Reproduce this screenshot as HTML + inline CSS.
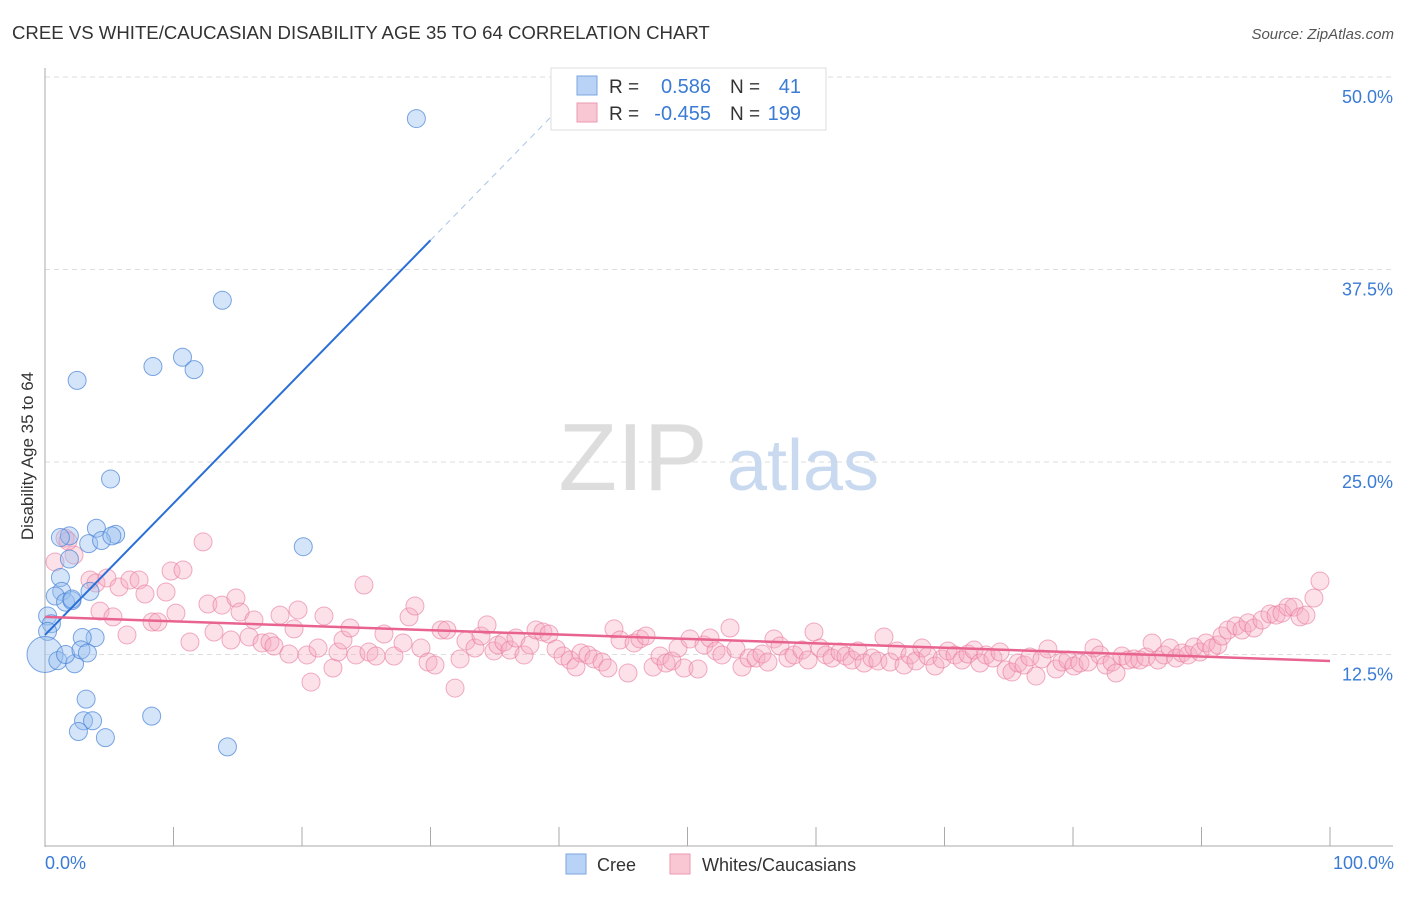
<!DOCTYPE html>
<html><head><meta charset="utf-8"><style>
body{margin:0;background:#fff;font-family:"Liberation Sans",sans-serif}
svg text{font-family:"Liberation Sans",sans-serif}
</style></head><body>
<svg id="chart" width="1406" height="892" viewBox="0 0 1406 892">
<text x="12" y="39" font-size="18.6" fill="#333">CREE VS WHITE/CAUCASIAN DISABILITY AGE 35 TO 64 CORRELATION CHART</text>
<text x="1394" y="39" font-size="15" fill="#555" font-style="italic" text-anchor="end">Source: ZipAtlas.com</text>
<g id="grid"></g>
<g>
<text x="633" y="490" font-size="96" fill="#ddd" font-family="Liberation Serif,serif" text-anchor="middle">ZIP</text>
<text x="803" y="490" font-size="72" fill="#c9daf0" text-anchor="middle">atlas</text>
</g>
<g id="pinkpts"></g>
<g id="bluepts"></g>
<g id="lines"></g>
<text transform="translate(33,456) rotate(-90)" font-size="17" fill="#333" text-anchor="middle">Disability Age 35 to 64</text>
<text x="45" y="869" font-size="18" fill="#3a7bd5">0.0%</text>
<text x="1394" y="869" font-size="18" fill="#3a7bd5" text-anchor="end">100.0%</text>
<g>
<rect x="551" y="68" width="275" height="62" fill="#fff" stroke="#ddd"/>
<rect x="577" y="76" width="20" height="19" fill="#b8d3f5" stroke="#7aa6e0"/>
<rect x="577" y="103" width="20" height="19" fill="#f9c6d4" stroke="#eb9ab2"/>
<text x="609" y="93" font-size="19" fill="#333">R =</text><text x="711" y="93" font-size="20" fill="#3a7bd5" text-anchor="end">0.586</text>
<text x="730" y="93" font-size="19" fill="#333">N =</text><text x="801" y="93" font-size="20" fill="#3a7bd5" text-anchor="end">41</text>
<text x="609" y="120" font-size="19" fill="#333">R =</text><text x="711" y="120" font-size="20" fill="#3a7bd5" text-anchor="end">-0.455</text>
<text x="730" y="120" font-size="19" fill="#333">N =</text><text x="801" y="120" font-size="20" fill="#3a7bd5" text-anchor="end">199</text>
</g>
<g>
<rect x="566" y="854" width="20" height="20" fill="#b8d3f5" stroke="#7aa6e0"/>
<text x="597" y="871" font-size="18" fill="#333">Cree</text>
<rect x="670" y="854" width="20" height="20" fill="#f9c6d4" stroke="#eb9ab2"/>
<text x="702" y="871" font-size="18" fill="#333">Whites/Caucasians</text>
</g>
</svg>
<script>
const yTicks=[12.5,25,37.5,50];
const yTickLabels=["12.5%","25.0%","37.5%","50.0%"];
const xTicks=[0,10,20,30,40,50,60,70,80,90,100];
const creeX=[28.9,13.8,8.4,10.7,11.6,2.5,5.1,4.0,5.5,1.9,1.2,3.4,4.4,5.2,20.1,1.9,1.2,1.3,0.8,1.6,2.1,0.2,0.5,0.2,3.9,3.5,0,1.0,2.3,1.6,2.9,2.8,3.3,3.2,3.0,3.7,2.6,4.7,8.3,14.2,2.1];
const creeY=[47.3,35.5,31.2,31.8,31.0,30.3,23.9,20.7,20.3,20.2,20.1,19.7,19.9,20.2,19.5,18.7,17.5,16.6,16.3,15.9,16.0,15.0,14.5,14.0,13.6,16.6,12.5,12.1,11.9,12.5,13.6,12.8,12.6,9.6,8.2,8.2,7.5,7.1,8.5,6.5,16.1];
const creeSize=[9,9,9,9,9,9,9,9,9,9,9,9,9,9,9,9,9,9,9,9,9,9,9,9,9,9,18,9,9,9,9,9,9,9,9,9,9,9,9,9,9];
const whitePx=[[55,562],[65,538],[74,555],[68,541],[90,580],[96,583],[107,578],[119,587],[130,580],[139,580],[145,594],[166,592],[171,571],[183,570],[203,542],[100,611],[113,617],[127,635],[152,622],[158,622],[176,613],[190,642],[208,604],[214,632],[222,605],[231,640],[236,598],[240,612],[249,637],[254,620],[262,643],[270,642],[274,646],[280,615],[289,654],[294,629],[298,610],[307,655],[311,682],[318,648],[324,616],[333,668],[338,652],[343,640],[350,628],[356,655],[364,585],[369,652],[376,656],[384,634],[394,656],[403,643],[409,617],[415,606],[421,648],[428,662],[435,665],[441,630],[447,630],[455,688],[460,659],[466,641],[475,648],[481,636],[487,625],[494,651],[498,645],[504,642],[510,650],[516,638],[524,655],[530,645],[536,630],[543,632],[549,634],[556,649],[563,656],[570,660],[576,667],[581,653],[588,655],[594,659],[602,662],[608,668],[614,629],[620,640],[628,673],[634,643],[640,639],[646,636],[653,667],[660,656],[666,663],[672,661],[678,648],[684,668],[690,639],[698,669],[704,645],[710,638],[716,651],[722,655],[730,628],[736,649],[742,667],[749,658],[756,658],[762,654],[768,662],[774,639],[780,646],[788,658],[794,655],[802,650],[808,660],[814,632],[820,648],[826,655],[832,658],[840,652],[846,656],[852,660],[858,651],[864,663],[872,658],[878,661],[884,637],[890,662],[897,651],[904,665],[910,655],[916,661],[922,648],[928,656],[935,666],[942,659],[948,651],[955,655],[962,660],[968,654],[974,650],[980,663],[986,655],[993,658],[1000,652],[1006,670],[1012,672],[1018,663],[1024,665],[1030,657],[1036,676],[1042,659],[1048,649],[1056,669],[1062,662],[1068,660],[1074,666],[1080,663],[1088,662],[1094,648],[1100,655],[1106,665],[1112,662],[1116,673],[1122,656],[1128,660],[1134,659],[1140,660],[1146,657],[1152,643],[1158,660],[1164,655],[1170,648],[1176,658],[1182,653],[1188,655],[1194,647],[1200,652],[1206,643],[1212,648],[1218,645],[1222,636],[1228,630],[1236,626],[1242,630],[1248,623],[1254,628],[1262,620],[1270,614],[1276,615],[1282,613],[1288,607],[1294,607],[1300,617],[1306,615],[1314,598],[1320,581]];
// values (percent units)
const whiteX=whitePx.map(p=>+((p[0]-45)/12.85).toFixed(2));
const whiteY=whitePx.map(p=>+((847-p[1])/15.4).toFixed(2));
const creeTrend=[13.77,39.4];     // y at x=0 and x=30
const creeTrendX=[0,30,42.5];
const whiteTrend=[14.94,12.08];   // y at x=0 and x=100

const X=v=>45+v*12.85, Y=v=>847-v*15.4;
const NS="http://www.w3.org/2000/svg";
function mk(tag,attrs,parent){const e=document.createElementNS(NS,tag);for(const k in attrs)e.setAttribute(k,attrs[k]);parent.appendChild(e);return e;}
const grid=document.getElementById('grid');
yTicks.forEach((t,i)=>{
  const l=mk('line',{x1:45,x2:1393,y1:Y(t),y2:Y(t),stroke:'#ddd','stroke-dasharray':'5,4'},grid);
  
  
  const tx=mk('text',{x:1393,y:Y(t)+26,'font-size':18,fill:'#3a7bd5','text-anchor':'end'},grid);
  tx.textContent=yTickLabels[i];
  
  
});
const ya=mk('line',{x1:45,x2:45,y1:68,y2:847,stroke:'#aaa'},grid);


const xa=mk('line',{x1:45,x2:1393,y1:846,y2:846,stroke:'#aaa'},grid);


xTicks.forEach(t=>{
  const l=mk('line',{x1:X(t),x2:X(t),y1:827,y2:846,stroke:'#aaa'},grid);
  
  
});
const pg=document.getElementById('pinkpts');
whiteX.forEach((x,i)=>{
  const c=mk('circle',{cx:X(x),cy:Y(whiteY[i]),r:9,fill:'rgba(246,170,192,0.35)',stroke:'rgba(232,120,155,0.6)','stroke-width':1},pg);
  
  
});
const bg=document.getElementById('bluepts');
creeX.forEach((x,i)=>{
  const c=mk('circle',{cx:X(x),cy:Y(creeY[i]),r:creeSize[i],fill:'rgba(150,190,240,0.4)',stroke:'rgba(70,130,215,0.7)','stroke-width':1},bg);
  
  
});
const lg=document.getElementById('lines');
const slope=(creeTrend[1]-creeTrend[0])/(creeTrendX[1]-creeTrendX[0]);
const b1=mk('line',{x1:X(0),y1:Y(creeTrend[0]),x2:X(creeTrendX[1]),y2:Y(creeTrend[1]),stroke:'#2a6fd6','stroke-width':2},lg);


const b2=mk('line',{x1:X(creeTrendX[1]),y1:Y(creeTrend[1]),x2:X(creeTrendX[2]),y2:Y(creeTrend[0]+slope*creeTrendX[2]),stroke:'#aac4e8','stroke-width':1,'stroke-dasharray':'6,5'},lg);


const p1=mk('line',{x1:X(0),y1:Y(whiteTrend[0]),x2:X(100),y2:Y(whiteTrend[1]),stroke:'#e8648f','stroke-width':2.5},lg);


</script>
</body></html>
